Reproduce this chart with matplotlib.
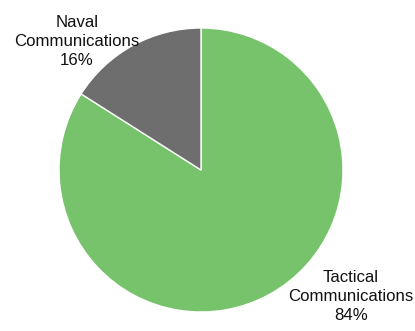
import matplotlib.pyplot as plt

labels = ["Tactical\nCommunications", "Naval\nCommunications"]
shares = [84, 16]
colors = ["#77C36B", "#6E6E6E"]

plt.rcParams['font.family'] = ['Liberation Sans', 'DejaVu Sans']

fig = plt.figure(figsize=(4.15, 3.31), dpi=100)
# pie centred at (201, 170) px with radius 142 px
ax = fig.add_axes([59 / 415, 19 / 331, 284 / 415, 284 / 331])
wedges, _ = ax.pie(shares, colors=colors, startangle=90, counterclock=False,
                   radius=1, wedgeprops=dict(edgecolor="white", linewidth=1))
ax.set_xlim(-1, 1)
ax.set_ylim(-1, 1)
ax.set_aspect("equal")
ax.axis("off")

# text positions in pie units
label_pos = [(1.055, -0.89), (-0.873, 0.905)]
for lab, val, (x, y) in zip(labels, shares, label_pos):
    ax.text(x, y, f"{lab}\n{val}%", ha="center", va="center", fontsize=12.1,
            linespacing=1.34, color="#111111", clip_on=False)

fig.savefig("out.png", dpi=100)
